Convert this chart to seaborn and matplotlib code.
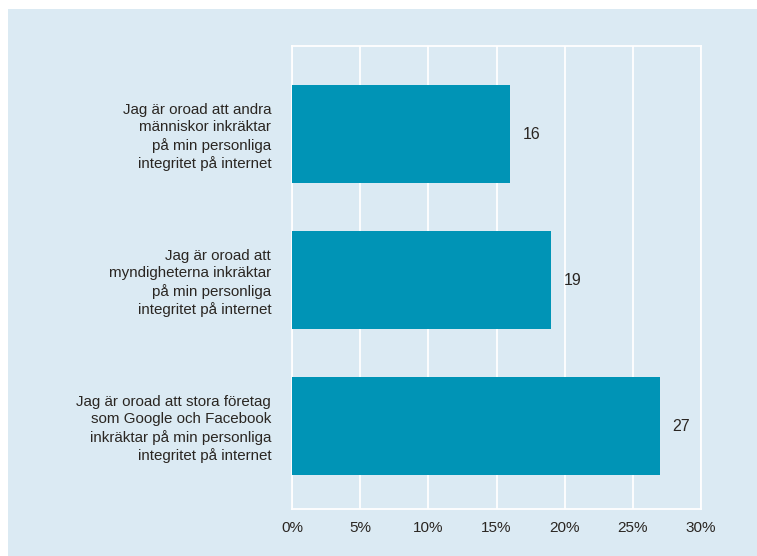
import matplotlib
matplotlib.use("Agg")
import matplotlib.pyplot as plt
import seaborn as sns
import pandas as pd
from matplotlib.patches import Rectangle
from matplotlib.ticker import FuncFormatter

categories = [
    "Jag är oroad att andra\nmänniskor inkräktar\npå min personliga\nintegritet på internet",
    "Jag är oroad att\nmyndigheterna inkräktar\npå min personliga\nintegritet på internet",
    "Jag är oroad att stora företag\nsom Google och Facebook\ninkräktar på min personliga\nintegritet på internet",
]
values = [16, 19, 27]
xticks = [0, 5, 10, 15, 20, 25, 30]

BG = "#dbeaf3"
BAR = "#0094b6"
TXT = "#2a2622"

sns.set_theme(style="white")
plt.rcParams["font.family"] = ["Liberation Sans", "DejaVu Sans"]

fig = plt.figure(figsize=(7.57, 5.56), dpi=100)
fig.patch.set_facecolor("white")
bg = Rectangle((8 / 757, 0), 1 - 8 / 757, 1 - 9 / 556,
               transform=fig.transFigure, facecolor=BG,
               edgecolor="none", zorder=-10)
fig.add_artist(bg)

ax = fig.add_axes([292 / 757, 1 - 509 / 556, 409 / 757, 463 / 556])
ax.set_zorder(1)
ax.set_facecolor(BG)

df = pd.DataFrame({"cat": categories, "val": values})
sns.barplot(data=df, x="val", y="cat", orient="h", color=BAR, width=0.67,
            saturation=1, linewidth=0, ax=ax, zorder=3)

ax.set_xlim(0, 30)
ax.set_ylim(2.568, -0.603)
ax.set_xticks(xticks)
ax.xaxis.set_major_formatter(FuncFormatter(lambda v, p: f"{int(v)}%"))
ax.set_xlabel("")
ax.set_ylabel("")
ax.grid(axis="x", color="white", linewidth=1.3, zorder=1)
ax.grid(axis="y", visible=False)
for s in ax.spines.values():
    s.set_color("white")
    s.set_linewidth(1.3)
    s.set_visible(True)

ax.tick_params(axis="x", length=0, pad=9, labelsize=11, labelcolor=TXT)
ax.tick_params(axis="y", length=0, pad=15, labelsize=10.9, labelcolor=TXT)
for lbl in ax.get_yticklabels():
    lbl.set_horizontalalignment("right")
    lbl.set_multialignment("right")
    lbl.set_linespacing(1.28)

for c in ax.containers:
    ax.bar_label(c, labels=[str(v) for v in values], padding=9,
                 fontsize=11.5, color=TXT)

fig.savefig("out.png", dpi=100, facecolor=fig.get_facecolor())
